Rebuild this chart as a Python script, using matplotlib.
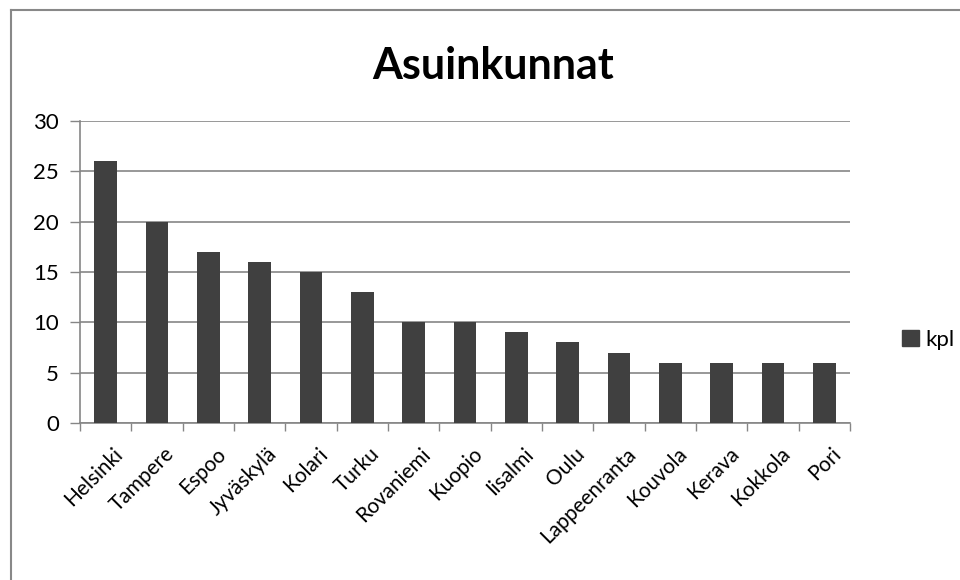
import matplotlib
matplotlib.use("Agg")
import matplotlib.pyplot as plt
from matplotlib.lines import Line2D
from matplotlib.patches import Patch

categories = ["Helsinki", "Tampere", "Espoo", "Jyväskylä", "Kolari", "Turku",
              "Rovaniemi", "Kuopio", "Iisalmi", "Oulu", "Lappeenranta",
              "Kouvola", "Kerava", "Kokkola", "Pori"]
values = [26, 20, 17, 16, 15, 13, 10, 10, 9, 8, 7, 6, 6, 6, 6]
series_name = "kpl"
title = "Asuinkunnat"
yticks = [0, 5, 10, 15, 20, 25, 30]

plt.rcParams['font.family'] = ['Lato', 'DejaVu Sans']

fig = plt.figure(figsize=(9.6, 5.8), dpi=100)
W, H = 960, 580
ax = fig.add_axes([80 / W, 1 - 423 / H, (850 - 80) / W, (423 - 121) / H])

bar_color = "#404040"
grid_color = "#868686"

x = list(range(len(categories)))
ax.bar(x, values, width=0.44, color=bar_color, zorder=3)

ax.set_xlim(-0.5, len(categories) - 0.5)
ax.set_ylim(0, 30)
ax.set_yticks(yticks)
ax.set_yticklabels([str(t) for t in yticks], fontsize=16)
ax.yaxis.grid(True, color=grid_color, linewidth=1.2, zorder=0)
ax.set_axisbelow(True)

# category boundary ticks
ax.set_xticks([i - 0.5 for i in range(len(categories) + 1)])
ax.set_xticklabels([])
ax.tick_params(axis='x', length=6, width=1, color=grid_color, direction='out')
ax.tick_params(axis='y', length=7, width=1, color=grid_color, direction='out', pad=8)

for s in ['top', 'right']:
    ax.spines[s].set_visible(False)
for s in ['left', 'bottom']:
    ax.spines[s].set_color(grid_color)
    ax.spines[s].set_linewidth(1.2)

for i, c in enumerate(categories):
    ax.annotate(c, xy=(i, 0), xycoords=('data', 'axes fraction'),
                xytext=(5, -15), textcoords='offset points',
                rotation=45, ha='right', va='top', rotation_mode='anchor',
                fontsize=15)

fig.text(493 / W, 1 - 66 / H, title, ha='center', va='center',
         fontsize=31, fontweight='bold')

handles = [Patch(facecolor=bar_color, edgecolor=bar_color, label=series_name)]
fig.legend(handles=handles, loc='center left', bbox_to_anchor=(891 / W, 1 - 340 / H),
           frameon=False, fontsize=16, handlelength=0.75, handleheight=0.75,
           handletextpad=0.3, borderpad=0)

# chart border (left and top visible)
fig.add_artist(Line2D([11 / W, 11 / W], [0, 1 - 10 / H], transform=fig.transFigure,
                      color="#888888", linewidth=1.5))
fig.add_artist(Line2D([11 / W, 1], [1 - 10 / H, 1 - 10 / H], transform=fig.transFigure,
                      color="#888888", linewidth=1.5))

fig.savefig("out.png", dpi=100)
